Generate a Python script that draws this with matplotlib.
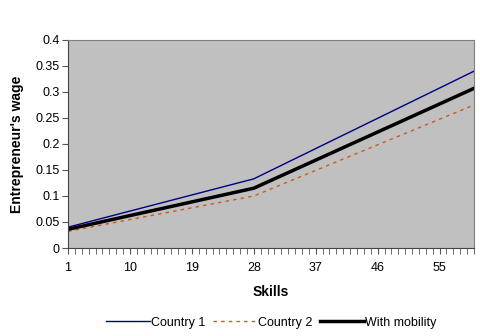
import matplotlib
matplotlib.use("Agg")
import matplotlib.pyplot as plt
from matplotlib.ticker import FixedLocator

plt.rcParams['font.family'] = ['Liberation Sans', 'DejaVu Sans']

skills = [1, 28, 60]
country1 = [0.040, 0.133, 0.340]
country2 = [0.032, 0.100, 0.275]
mobility = [0.036, 0.115, 0.307]
xtick_labels = [1, 10, 19, 28, 37, 46, 55]
ytick_labels = ['0', '0.05', '0.1', '0.15', '0.2', '0.25', '0.3', '0.35', '0.4']

fig = plt.figure(figsize=(4.8, 3.36), dpi=100)
ax = fig.add_axes([0.1417, 0.2619, 0.8458, 0.6191])
ax.set_facecolor('#C0C0C0')

ax.plot(skills, country1, color='#000080', lw=1.0, label='Country 1')
ax.plot(skills, country2, color='#CC5A1E', lw=1.0, ls=(0, (2.5, 3)), label='Country 2')
ax.plot(skills, mobility, color='black', lw=2.5, label='With mobility')

ax.set_xlim(1, 60)
ax.set_ylim(0, 0.4)
ax.set_yticks([i * 0.05 for i in range(len(ytick_labels))])
ax.set_yticklabels(ytick_labels)
ax.set_xticks(xtick_labels)
ax.set_xticklabels([str(v) for v in xtick_labels])
ax.xaxis.set_minor_locator(FixedLocator(list(range(1, 61))))

ax.tick_params(axis='both', which='both', direction='out', labelsize=9, color='#555555')
ax.tick_params(axis='x', which='major', length=4, pad=6)
ax.tick_params(axis='x', which='minor', length=4)
ax.tick_params(axis='y', which='major', length=4, pad=2)

for side in ['top', 'right']:
    ax.spines[side].set_color('#808080')
for side in ['left', 'bottom']:
    ax.spines[side].set_color('#444444')

ax.set_ylabel("Entrepreneur's wage", fontsize=10, fontweight='bold', labelpad=8)
ax.set_xlabel('Skills', fontsize=10, fontweight='bold', labelpad=8)

fig.legend(loc='lower center', bbox_to_anchor=(0.565, -0.012), ncol=3, frameon=False,
           fontsize=9, handlelength=3.5, handletextpad=0.1, columnspacing=0.6)

fig.savefig('out.png', dpi=100, facecolor='white')
